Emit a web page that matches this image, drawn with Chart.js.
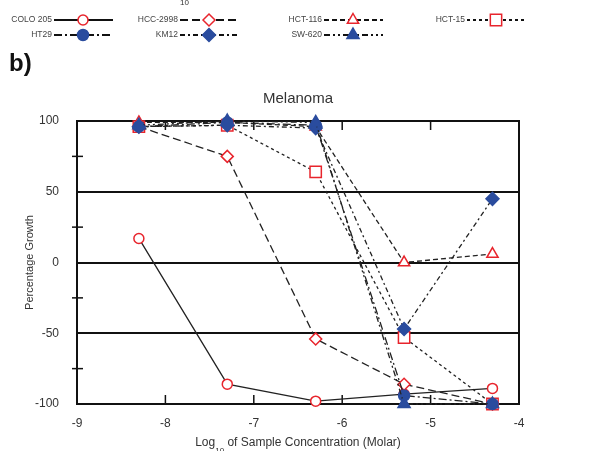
<!DOCTYPE html>
<html>
<head>
<meta charset="utf-8">
<script src="https://cdn.jsdelivr.net/npm/chart.js@4.4.0/dist/chart.umd.min.js"></script>
<style>
  html, body { margin: 0; padding: 0; background: #fff; }
  #wrap { width: 600px; height: 451px; position: relative; }
</style>
</head>
<body>
<div id="wrap"><canvas id="chartMelanoma"></canvas></div>
<script>
// log10 molar concentrations
const concentracoes = [-8.3, -7.3, -6.3, -5.3, -4.3];

const linhas = ['COLO 205', 'HCC-2998', 'HCT-116', 'HCT-15', 'HT29', 'KM12', 'SW-620'];

// percentage growth per cell line
const colo205 = [17, -86, -98, -93, -89];
const hcc2998 = [96, 75, -54, -86, -100];
const hct116 = [99, 99, 96, 0, 6];
const hct15 = [96, 97, 64, -53, -100];
const ht29 = [96, 99, 97, -94, -100];
const km12 = [96, 97, 95, -47, 45];
const sw620 = [97, 100, 99, -100, -100];

const yTicks = [-100, -50, 0, 50, 100];
const xTicks = [-9, -8, -7, -6, -5, -4];

const vermelho = '#e8242c';
const azul = '#2a4c9e';

// camada: smaller is drawn on top
const estilos = [
    { valores: colo205, ponto: 'circle', cor: vermelho, cheio: false, dash: [], raio: 5, camada: 7 },
    { valores: hcc2998, ponto: 'rectRot', cor: vermelho, cheio: false, dash: [8, 4], raio: 6, camada: 5 },
    { valores: hct116, ponto: 'triangle', cor: vermelho, cheio: false, dash: [5, 3], raio: 6.5, camada: 4 },
    { valores: hct15, ponto: 'rect', cor: vermelho, cheio: false, dash: [3, 3], raio: 8, camada: 6 },
    { valores: ht29, ponto: 'circle', cor: azul, cheio: true, dash: [8, 3, 2, 3], raio: 5.5, camada: 3 },
    { valores: km12, ponto: 'rectRot', cor: azul, cheio: true, dash: [5, 3, 2, 3], raio: 6.5, camada: 2 },
    { valores: sw620, ponto: 'triangle', cor: azul, cheio: true, dash: [6, 3, 2, 3, 2, 3], raio: 7, camada: 1 }
];

const datasets = linhas.map((nome, i) => {
    const e = estilos[i];
    return {
        label: nome,
        data: concentracoes.map((x, j) => ({ x: x, y: e.valores[j] })),
        order: e.camada,
        clip: false,
        borderColor: '#222',
        borderWidth: 1.3,
        borderDash: e.dash,
        pointStyle: e.ponto,
        pointRadius: e.raio,
        pointBorderColor: e.cor,
        pointBackgroundColor: e.cheio ? e.cor : '#fff',
        pointBorderWidth: 1.5,
        tension: 0,
        fill: false
    };
});

const fonte = '"Liberation Sans", Arial, sans-serif';

// frame, minor ticks, legend and extra texts
const extrasPlugin = {
    id: 'extras',
    beforeDatasetsDraw(chart) {
        const ctx = chart.ctx;
        const area = chart.chartArea;
        const xs = chart.scales.x;
        const ys = chart.scales.y;
        ctx.save();
        ctx.strokeStyle = '#111';
        ctx.lineWidth = 2;
        ctx.setLineDash([]);
        ctx.strokeRect(area.left, area.top, area.right - area.left, area.bottom - area.top);

        // inner x ticks top and bottom
        ctx.lineWidth = 1.5;
        xTicks.slice(1, -1).forEach(v => {
            const px = xs.getPixelForValue(v);
            ctx.beginPath();
            ctx.moveTo(px, area.bottom);
            ctx.lineTo(px, area.bottom - 9);
            ctx.moveTo(px, area.top);
            ctx.lineTo(px, area.top + 9);
            ctx.stroke();
        });
        // minor y ticks
        [75, 25, -25, -75].forEach(v => {
            const py = ys.getPixelForValue(v);
            ctx.beginPath();
            ctx.moveTo(area.left - 5, py);
            ctx.lineTo(area.left + 6, py);
            ctx.stroke();
        });
        ctx.restore();
    },
    afterDraw(chart) {
        const ctx = chart.ctx;
        const area = chart.chartArea;
        ctx.save();

        // title
        ctx.fillStyle = '#333';
        ctx.textBaseline = 'middle';
        ctx.textAlign = 'center';
        ctx.font = '15px ' + fonte;
        ctx.fillText('Melanoma', (area.left + area.right) / 2, 99);

        // x axis title with subscript
        const t1 = 'Log';
        const t2 = ' of Sample Concentration (Molar)';
        ctx.font = '12px ' + fonte;
        const w1 = ctx.measureText(t1).width;
        const w3 = ctx.measureText(t2).width;
        ctx.font = '8px ' + fonte;
        const w2 = ctx.measureText('10').width;
        let x0 = (area.left + area.right) / 2 - (w1 + w2 + w3) / 2;
        ctx.textAlign = 'left';
        ctx.font = '12px ' + fonte;
        ctx.fillText(t1, x0, 443);
        ctx.font = '8px ' + fonte;
        ctx.fillText('10', x0 + w1, 451);
        ctx.font = '12px ' + fonte;
        ctx.fillText(t2, x0 + w1 + w2, 443);

        // leftover subscript from the panel above
        ctx.font = '8px ' + fonte;
        ctx.fillText('10', 180, 3);

        // b)
        ctx.fillStyle = '#111';
        ctx.font = 'bold 24px ' + fonte;
        ctx.fillText('b)', 9, 64);

        // legend
        const colunas = [52, 178, 322, 465];
        const linhasY = [20, 35];
        const ordem = [[0, 0, 0], [1, 0, 1], [2, 0, 2], [3, 0, 3], [4, 1, 0], [5, 1, 1], [6, 1, 2]];
        ordem.forEach(([i, r, c]) => {
            const ds = datasets[i];
            const tx = colunas[c];
            const ty = linhasY[r];
            ctx.font = '8.5px ' + fonte;
            ctx.fillStyle = '#444';
            ctx.textAlign = 'right';
            ctx.fillText(ds.label, tx, ty);
            ctx.strokeStyle = '#111';
            ctx.lineWidth = 2;
            ctx.setLineDash(ds.borderDash);
            ctx.beginPath();
            ctx.moveTo(tx + 2, ty);
            ctx.lineTo(tx + 61, ty);
            ctx.stroke();
            ctx.setLineDash([]);
            ctx.lineWidth = 1.5;
            ctx.strokeStyle = ds.pointBorderColor;
            ctx.fillStyle = ds.pointBackgroundColor;
            Chart.helpers.drawPoint(ctx, { pointStyle: ds.pointStyle, radius: ds.pointRadius, borderWidth: 1.5, rotation: 0 }, tx + 31, ty);
        });
        ctx.restore();
    }
};

const ctxMel = document.getElementById('chartMelanoma');
new Chart(ctxMel, {
    type: 'line',
    data: { datasets: datasets },
    plugins: [extrasPlugin],
    options: {
        responsive: true,
        maintainAspectRatio: false,
        animation: false,
        layout: { padding: { top: 121, right: 81, bottom: 0, left: 0 } },
        plugins: {
            legend: { display: false },
            tooltip: { enabled: false },
            title: { display: false }
        },
        scales: {
            x: {
                type: 'linear',
                min: -9,
                max: -4,
                afterBuildTicks: (scale) => { scale.ticks = xTicks.map(v => ({ value: v })); },
                afterFit: (scale) => { scale.height = 47; },
                grid: { display: false, drawTicks: false },
                border: { display: true, color: '#111', width: 2 },
                ticks: {
                    color: '#333',
                    padding: 12,
                    font: { family: fonte, size: 12 }
                }
            },
            y: {
                min: -100,
                max: 100,
                afterBuildTicks: (scale) => { scale.ticks = yTicks.map(v => ({ value: v })); },
                afterFit: (scale) => { scale.width = 77; },
                grid: {
                    drawTicks: false,
                    lineWidth: 2,
                    color: (c) => (c.tick && Math.abs(c.tick.value) <= 50) ? '#111' : 'rgba(0,0,0,0)'
                },
                border: { display: true, color: '#111', width: 2 },
                title: {
                    display: true,
                    text: 'Percentage Growth',
                    color: '#333',
                    padding: { top: 23, bottom: 0 },
                    font: { family: fonte, size: 11 }
                },
                ticks: {
                    color: '#333',
                    padding: 18,
                    font: { family: fonte, size: 12 }
                }
            }
        }
    }
});
</script>
</body>
</html>
